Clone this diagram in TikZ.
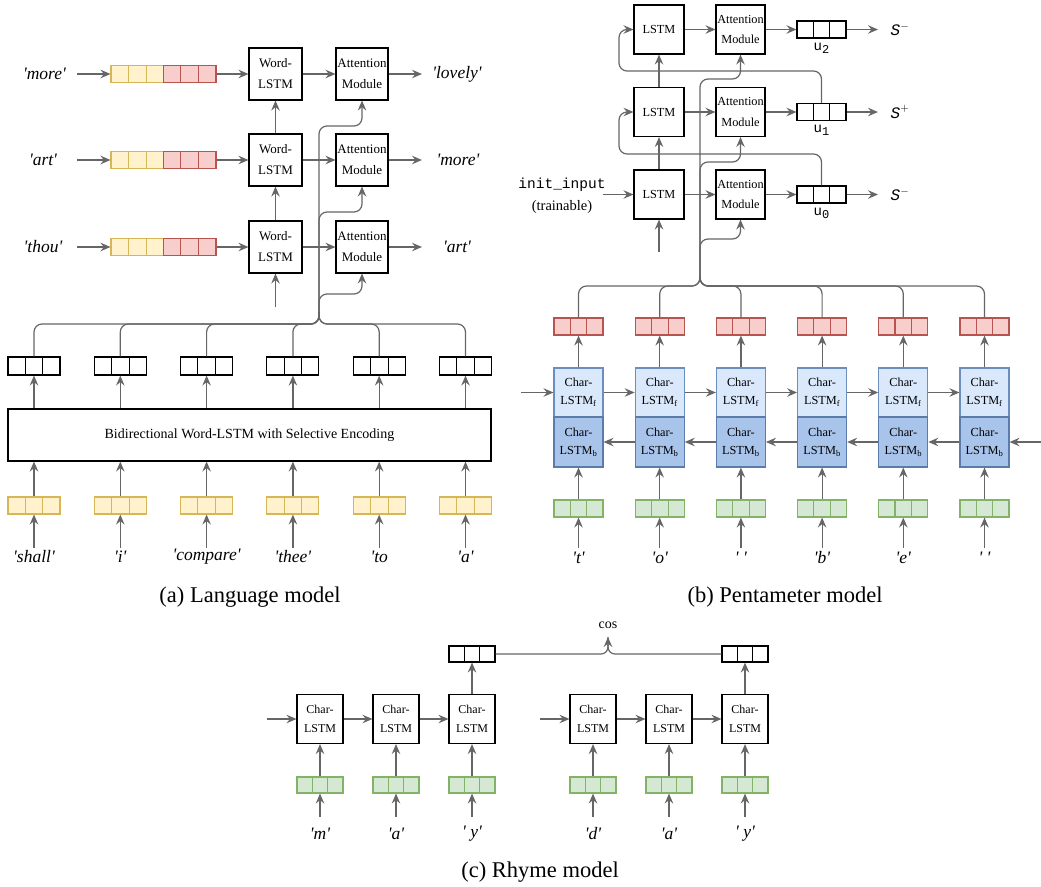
\documentclass[tikz,border=0pt]{standalone}
\usepackage{fontspec}
\setmainfont{Liberation Serif}
\setmonofont{Liberation Mono}
\usetikzlibrary{arrows.meta,calc}
\definecolor{gline}{HTML}{666666}
\definecolor{yf}{HTML}{FFF2CC}\definecolor{yd}{HTML}{D6B656}
\definecolor{rf}{HTML}{F8CECC}\definecolor{rd}{HTML}{B85450}
\definecolor{gf}{HTML}{D5E8D4}\definecolor{gd}{HTML}{82B366}
\definecolor{bf}{HTML}{DAE8FC}\definecolor{bd}{HTML}{6C8EBF}
\definecolor{cf}{HTML}{A9C4EB}\definecolor{cd}{HTML}{5B7BA8}
\newcommand\sq{\textquotesingle}
\newcommand\mkcells[5]{%
  \node[#5, minimum width=#3pt, minimum height=#4pt] (#1) at (#2) {};
  \draw[#5, fill=none] ($(#1.north west)!1/3!(#1.north east)$) -- ($(#1.south west)!1/3!(#1.south east)$)
        ($(#1.north west)!2/3!(#1.north east)$) -- ($(#1.south west)!2/3!(#1.south east)$);
}
\tikzset{
 conn/.style={draw=gline, line width=1.2pt},
 arr/.style={conn, -{Stealth[length=10pt,width=8.5pt,inset=3.5pt]}},
 blk/.style={draw=black, line width=1.1pt, fill=white, inner sep=0, align=center},
 kv/.style={draw=black, line width=1.1pt, fill=white, inner sep=0},
 yv/.style={draw=yd, fill=yf, line width=1.1pt, inner sep=0},
 rv/.style={draw=rd, fill=rf, line width=1.1pt, inner sep=0},
 gv/.style={draw=gd, fill=gf, line width=1.1pt, inner sep=0},
 wlab/.style={font=\fontsize{17.5}{20}\selectfont\itshape, inner sep=0},
 captxt/.style={font=\fontsize{22.5}{27}\selectfont, inner sep=0},
 bt/.style={font=\fontsize{13}{21}\selectfont},
 pb/.style={font=\fontsize{12.3}{20.5}\selectfont},
 cfbox/.style={draw=bd, fill=bf, line width=1.1pt, inner sep=0, align=center, minimum width=49pt, minimum height=49pt, font=\fontsize{12.3}{18}\selectfont},
 cbbox/.style={draw=cd, fill=cf, line width=1.1pt, inner sep=0, align=center, minimum width=49pt, minimum height=50pt, font=\fontsize{12.3}{18}\selectfont},
}
\begin{document}
\begin{tikzpicture}[x=1pt,y=-1pt]
\useasboundingbox (0,0) rectangle (1041,886);
% ================= panel (a) =================
\foreach \n/\yy in {1/247,2/160,3/74}{
  \node[blk, bt, minimum width=53pt, minimum height=52pt] (wl\n) at (275.5,\yy) {Word-\\LSTM};
  \node[blk, bt, minimum width=52pt, minimum height=52pt] (at\n) at (362,\yy) {Attention\\Module};
  \mkcells{ya\n}{137.25,\yy}{52.5}{17}{yv}
  \mkcells{ra\n}{189.75,\yy}{52.5}{17}{rv}
  \coordinate (ia\n) at (77,\yy);
  \coordinate (oa\n) at (422,\yy);
  \draw[arr] (ia\n) -- (ya\n.west);
  \draw[arr] (ra\n.east) -- (wl\n.west);
  \draw[arr] (wl\n.east) -- (at\n.west);
  \draw[arr] (at\n.east) -- (oa\n);
}
\node[wlab] (lin3) at (44.5,74) {\sq more\sq};
\node[wlab] (lin2) at (43,160) {\sq art\sq};
\node[wlab] (lin1) at (43,247) {\sq thou\sq};
\node[wlab] (lout3) at (457,74) {\sq lovely\sq};
\node[wlab] (lout2) at (458,160) {\sq more\sq};
\node[wlab] (lout1) at (457,247) {\sq art\sq};
\draw[arr] (wl1.north) -- (wl2.south);
\draw[arr] (wl2.north) -- (wl3.south);
\coordinate (wlb) at (275.5,307);
\draw[arr] (wlb) -- (wl1.south);

\node[blk, minimum width=483pt, minimum height=52pt, font=\fontsize{14}{16}\selectfont] (bi) at (249.5,435) {Bidirectional Word-LSTM with Selective Encoding};
\foreach \i/\x/\w in {1/34/{\sq shall\sq},2/120.3/{\sq i\sq},3/206.6/{\sq compare\sq},4/292.9/{\sq thee\sq},5/379.2/{\sq to},6/465.5/{\sq a\sq}}{
  \mkcells{ka\i}{\x,366}{52}{18}{kv}
  \mkcells{ea\i}{\x,505.5}{52}{17}{yv}
  \node[wlab] (wa\i) at (\x,557) {\w};
  \coordinate (wt\i) at (\x,548);
  \draw[arr] (wt\i) -- (ea\i.south);
  \draw[arr] (ea\i.north) -- (ea\i.north |- bi.south);
  \draw[arr] (bi.north -| ka\i.south) -- (ka\i.south);
  \draw[conn, rounded corners=8pt] (ka\i.north) |- (319,324) -- (319,312);
}
\coordinate (ja) at (319,314);
\draw[arr, rounded corners=8pt] (ja) -- (319,294) -| (at1.south);
\draw[arr, rounded corners=8pt] (ja) -- (319,212) -| (at2.south);
\draw[arr, rounded corners=8pt] (ja) -- (319,126) -| (at3.south);
\node[captxt] (capa) at (250,597) {(a) Language model};

% ================= panel (b) =================
\foreach \n/\yy/\s in {0/194.5/-,1/112/+,2/29.5/-}{
  \node[blk, pb, minimum width=50pt, minimum height=49pt] (l\n) at (659,\yy) {LSTM};
  \node[blk, pb, minimum width=49pt, minimum height=49pt] (b\n) at (740.5,\yy) {Attention\\Module};
  \mkcells{u\n}{821.5,\yy}{49}{17}{kv}
  \coordinate (s\n) at (878,\yy);
  \draw[arr] (l\n.east) -- (b\n.west);
  \draw[arr] (b\n.east) -- (u\n.west);
  \draw[arr] (u\n.east) -- (s\n);
  \node[inner sep=0, font=\fontsize{16}{18}\selectfont] (sl\n) at (900,\yy) {{\ttfamily\itshape S}$^{\s}$};
  \node[inner sep=0, anchor=north, font=\fontsize{14}{16}\selectfont\ttfamily] (ul\n) at ($(u\n.south)+(0,4)$) {u\raisebox{-0.45ex}{\fontsize{12}{14}\selectfont\n}};
}
\draw[arr] (l0.north) -- (l1.south);
\draw[arr] (l1.north) -- (l2.south);
\coordinate (lb) at (659,252);
\draw[arr] (lb) -- (l0.south);
\node[inner sep=0, font=\fontsize{14.5}{17}\selectfont\ttfamily] (ini) at (562,185) {init\_input};
\node[inner sep=0, font=\fontsize{14.5}{17}\selectfont] (tra) at (562,207) {(trainable)};
\coordinate (inia) at (603,194.5);
\draw[arr] (inia) -- (l0.west);
\draw[arr, rounded corners=8pt] (u0.north) |- (619,154) |- (l1.west);
\draw[arr, rounded corners=8pt] (u1.north) |- (619,71) |- (l2.west);

\foreach \i/\x/\w in {1/578.5/{\sq t\sq},2/659.7/{\sq o\sq},3/740.9/{\sq\ \sq},4/822.1/{\sq b\sq},5/903.3/{\sq e\sq},6/984.5/{\sq\ \sq}}{
  \node[cfbox] (cf\i) at (\x,392.5) {Char-\\LSTM\textsubscript{f}};
  \node[cbbox] (cb\i) at (\x,442) {Char-\\LSTM\textsubscript{b}};
  \mkcells{rb\i}{\x,326.5}{49}{17}{rv}
  \mkcells{gb\i}{\x,508.5}{49}{17}{gv}
  \node[wlab] (wb\i) at (\x,558) {\w};
  \coordinate (wbt\i) at (\x,548);
  \draw[arr] (wbt\i) -- (gb\i.south);
  \draw[arr] (gb\i.north) -- (cb\i.south);
  \draw[arr] (cf\i.north) -- (rb\i.south);
  \draw[conn, rounded corners=8pt] (rb\i.north) |- (700,286) -- (700,276);
}
\coordinate (fin) at (521,392.5);
\draw[arr] (fin) -- (cf1.west);
\foreach \a/\b in {1/2,2/3,3/4,4/5,5/6}{
  \draw[arr] (cf\a.east) -- (cf\b.west);
  \draw[arr] (cb\b.west) -- (cb\a.east);
}
\coordinate (bin) at (1041,442);
\draw[arr] (bin) -- (cb6.east);
\coordinate (jb) at (700,278);
\draw[arr, rounded corners=8pt] (jb) -- (700,239) -| (b0.south);
\draw[arr, rounded corners=8pt] (jb) -- (700,162) -| (b1.south);
\draw[arr, rounded corners=8pt] (jb) -- (700,79) -| (b2.south);
\node[captxt] (capb) at (785,597) {(b) Pentameter model};

% ================= panel (c) =================
\foreach \i/\x/\w in {1/320/{\sq m\sq},2/396/{\sq a\sq},3/472/{\sq\ y\sq},4/593/{\sq d\sq},5/669/{\sq a\sq},6/745/{\sq\ y\sq}}{
  \node[blk, font=\fontsize{12}{19}\selectfont, minimum width=46pt, minimum height=49pt] (cc\i) at (\x,719) {Char-\\LSTM};
  \mkcells{gc\i}{\x,785}{46}{16}{gv}
  \node[wlab] (wc\i) at (\x,834) {\w};
  \coordinate (wct\i) at (\x,817);
  \draw[arr] (wct\i) -- (gc\i.south);
  \draw[arr] (gc\i.north) -- (cc\i.south);
}
\coordinate (ic1) at (267,719);
\coordinate (ic2) at (540,719);
\draw[arr] (ic1) -- (cc1.west);
\draw[arr] (cc1.east) -- (cc2.west);
\draw[arr] (cc2.east) -- (cc3.west);
\draw[arr] (ic2) -- (cc4.west);
\draw[arr] (cc4.east) -- (cc5.west);
\draw[arr] (cc5.east) -- (cc6.west);
\mkcells{kc1}{472,654}{46}{16}{kv}
\mkcells{kc2}{745,654}{46}{16}{kv}
\draw[arr] (cc3.north) -- (kc1.south);
\draw[arr] (cc6.north) -- (kc2.south);
\node[inner sep=0, font=\fontsize{14}{15}\selectfont] (cos) at (608,625) {cos};
\coordinate (cosin) at (608,637);
\draw[conn, rounded corners=7pt] (kc1.east) -| (cosin);
\draw[arr, rounded corners=7pt] (kc2.west) -| (cosin);
\node[captxt] (capc) at (540,872) {(c) Rhyme model};
\end{tikzpicture}
\end{document}
